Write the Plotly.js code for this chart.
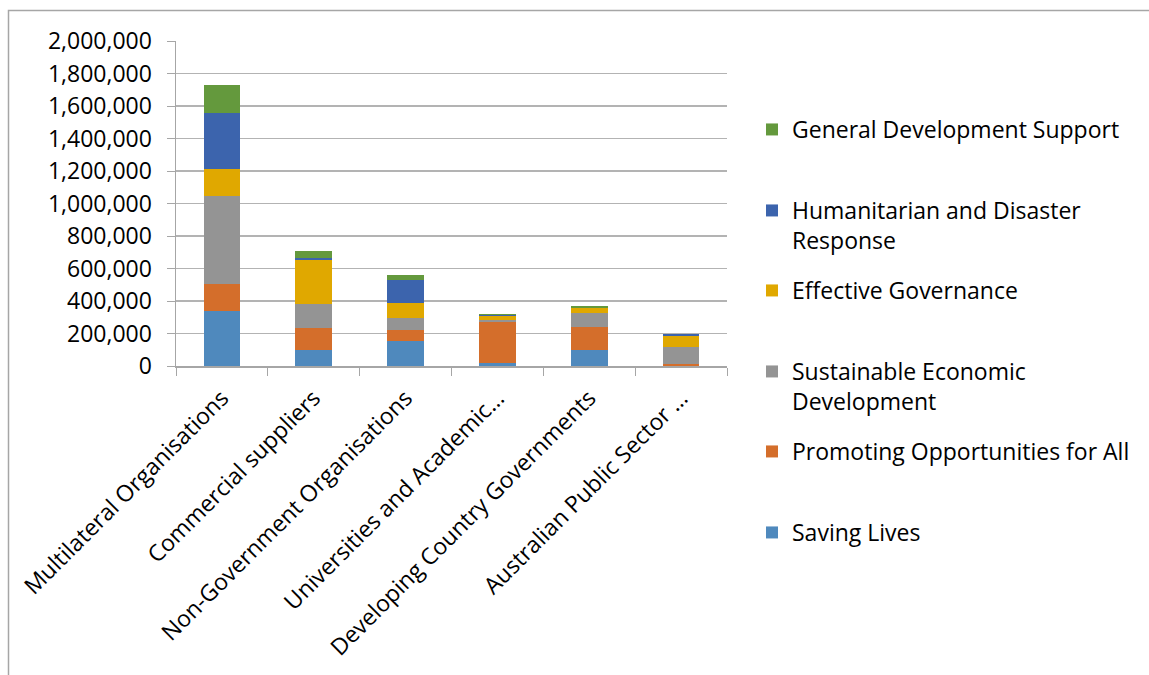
<!DOCTYPE html>
<html>
<head>
<meta charset="utf-8">
<script src="https://cdn.plot.ly/plotly-3.0.1.min.js"></script>
<style>
  html, body { margin: 0; padding: 0; background: #ffffff; }
  #chart { width: 1149px; height: 675px; }
</style>
</head>
<body>
<div id="chart"></div>
<script>
// Funding by partner type, split by investment priority
const categories = [
  "Multilateral Organisations",
  "Commercial suppliers",
  "Non-Government Organisations",
  "Universities and Academic…",
  "Developing Country Governments",
  "Australian Public Sector …"
];

const savingLives        = [337000,  99000, 154000,  19000,  97000,   2000];
const promotingOpps      = [166000, 134000,  66000, 252000, 143000,  12000];
const sustainableEcon    = [541000, 148000,  74000,  15000,  87000, 102000];
const effectiveGov       = [171000, 269000,  96000,  23000,  33000,  70000];
const humanitarian       = [341000,  12000, 138000,   6000,      0,   8000];
const generalDevSupport  = [173000,  43000,  35000,   3000,  12000,   5000];

const seriesNames = [
  "Saving Lives",
  "Promoting Opportunities for All",
  "Sustainable Economic<br>Development",
  "Effective Governance",
  "Humanitarian and Disaster<br>Response",
  "General Development Support"
];
const seriesValues = [savingLives, promotingOpps, sustainableEcon, effectiveGov, humanitarian, generalDevSupport];
const seriesColors = ["#4f89bd", "#d46e2b", "#949494", "#e0a800", "#3c64ad", "#64993d"];

const FONT = "Open Sans, Noto Sans, sans-serif";
const FS = 23;

// plot area spans 176..727 px horizontally, 41..366 px vertically
const pxX = p => (p - 176) / 551;
const pxY = p => (366 - p) / 325;

// each series gets its own legend box so entries sit in evenly spaced slots,
// top segment listed first (first-line centres in px)
const legendLineY = [532, 451, 371, 290, 210, 129];

const traces = seriesNames.map((name, i) => ({
  type: "bar",
  name: name,
  x: categories,
  y: seriesValues[i],
  legend: i === 0 ? "legend" : "legend" + (i + 1),
  marker: { color: seriesColors[i], line: { width: 0 } },
  hoverinfo: "x+y+name"
}));

const layout = {
  width: 1149,
  height: 675,
  margin: { l: 176, r: 422, t: 41, b: 309 },
  paper_bgcolor: "#ffffff",
  plot_bgcolor: "#ffffff",
  barmode: "stack",
  bargap: 0.6,
  font: { family: FONT, size: FS, color: "#000000" },
  showlegend: true,
  xaxis: {
    type: "category",
    tickangle: -45,
    ticks: "outside",
    tickson: "boundaries",
    ticklen: 8,
    tickcolor: "#a6a6a6",
    showline: true,
    linecolor: "#a6a6a6",
    linewidth: 1.5,
    showgrid: false,
    ticklabelstandoff: 8,
    tickfont: { family: FONT, size: FS, color: "#000000" }
  },
  yaxis: {
    range: [0, 2000000],
    dtick: 200000,
    tickformat: ",d",
    ticks: "outside",
    ticklen: 8,
    tickcolor: "#a6a6a6",
    showline: true,
    linecolor: "#a6a6a6",
    linewidth: 1.5,
    showgrid: true,
    gridcolor: "#b3b3b3",
    gridwidth: 1.5,
    zeroline: false,
    ticklabelstandoff: 10,
    tickfont: { family: FONT, size: FS, color: "#000000" }
  },
  shapes: [{
    type: "rect", xref: "paper", yref: "paper",
    x0: pxX(8.5), x1: pxX(1170), y0: pxY(690), y1: pxY(10.5),
    line: { color: "#a6a6a6", width: 1.5 },
    layer: "below"
  }]
};

legendLineY.forEach((cy, i) => {
  const key = i === 0 ? "legend" : "legend" + (i + 1);
  layout[key] = {
    x: pxX(752), xanchor: "left",
    y: pxY(cy - 21), yanchor: "top",
    valign: "top",
    font: { family: FONT, size: FS, color: "#000000" },
    bgcolor: "rgba(0,0,0,0)",
    itemwidth: 30,
    maxheight: 2000
  };
});

Plotly.newPlot("chart", traces, layout, { displayModeBar: false, staticPlot: true });
</script>
</body>
</html>
